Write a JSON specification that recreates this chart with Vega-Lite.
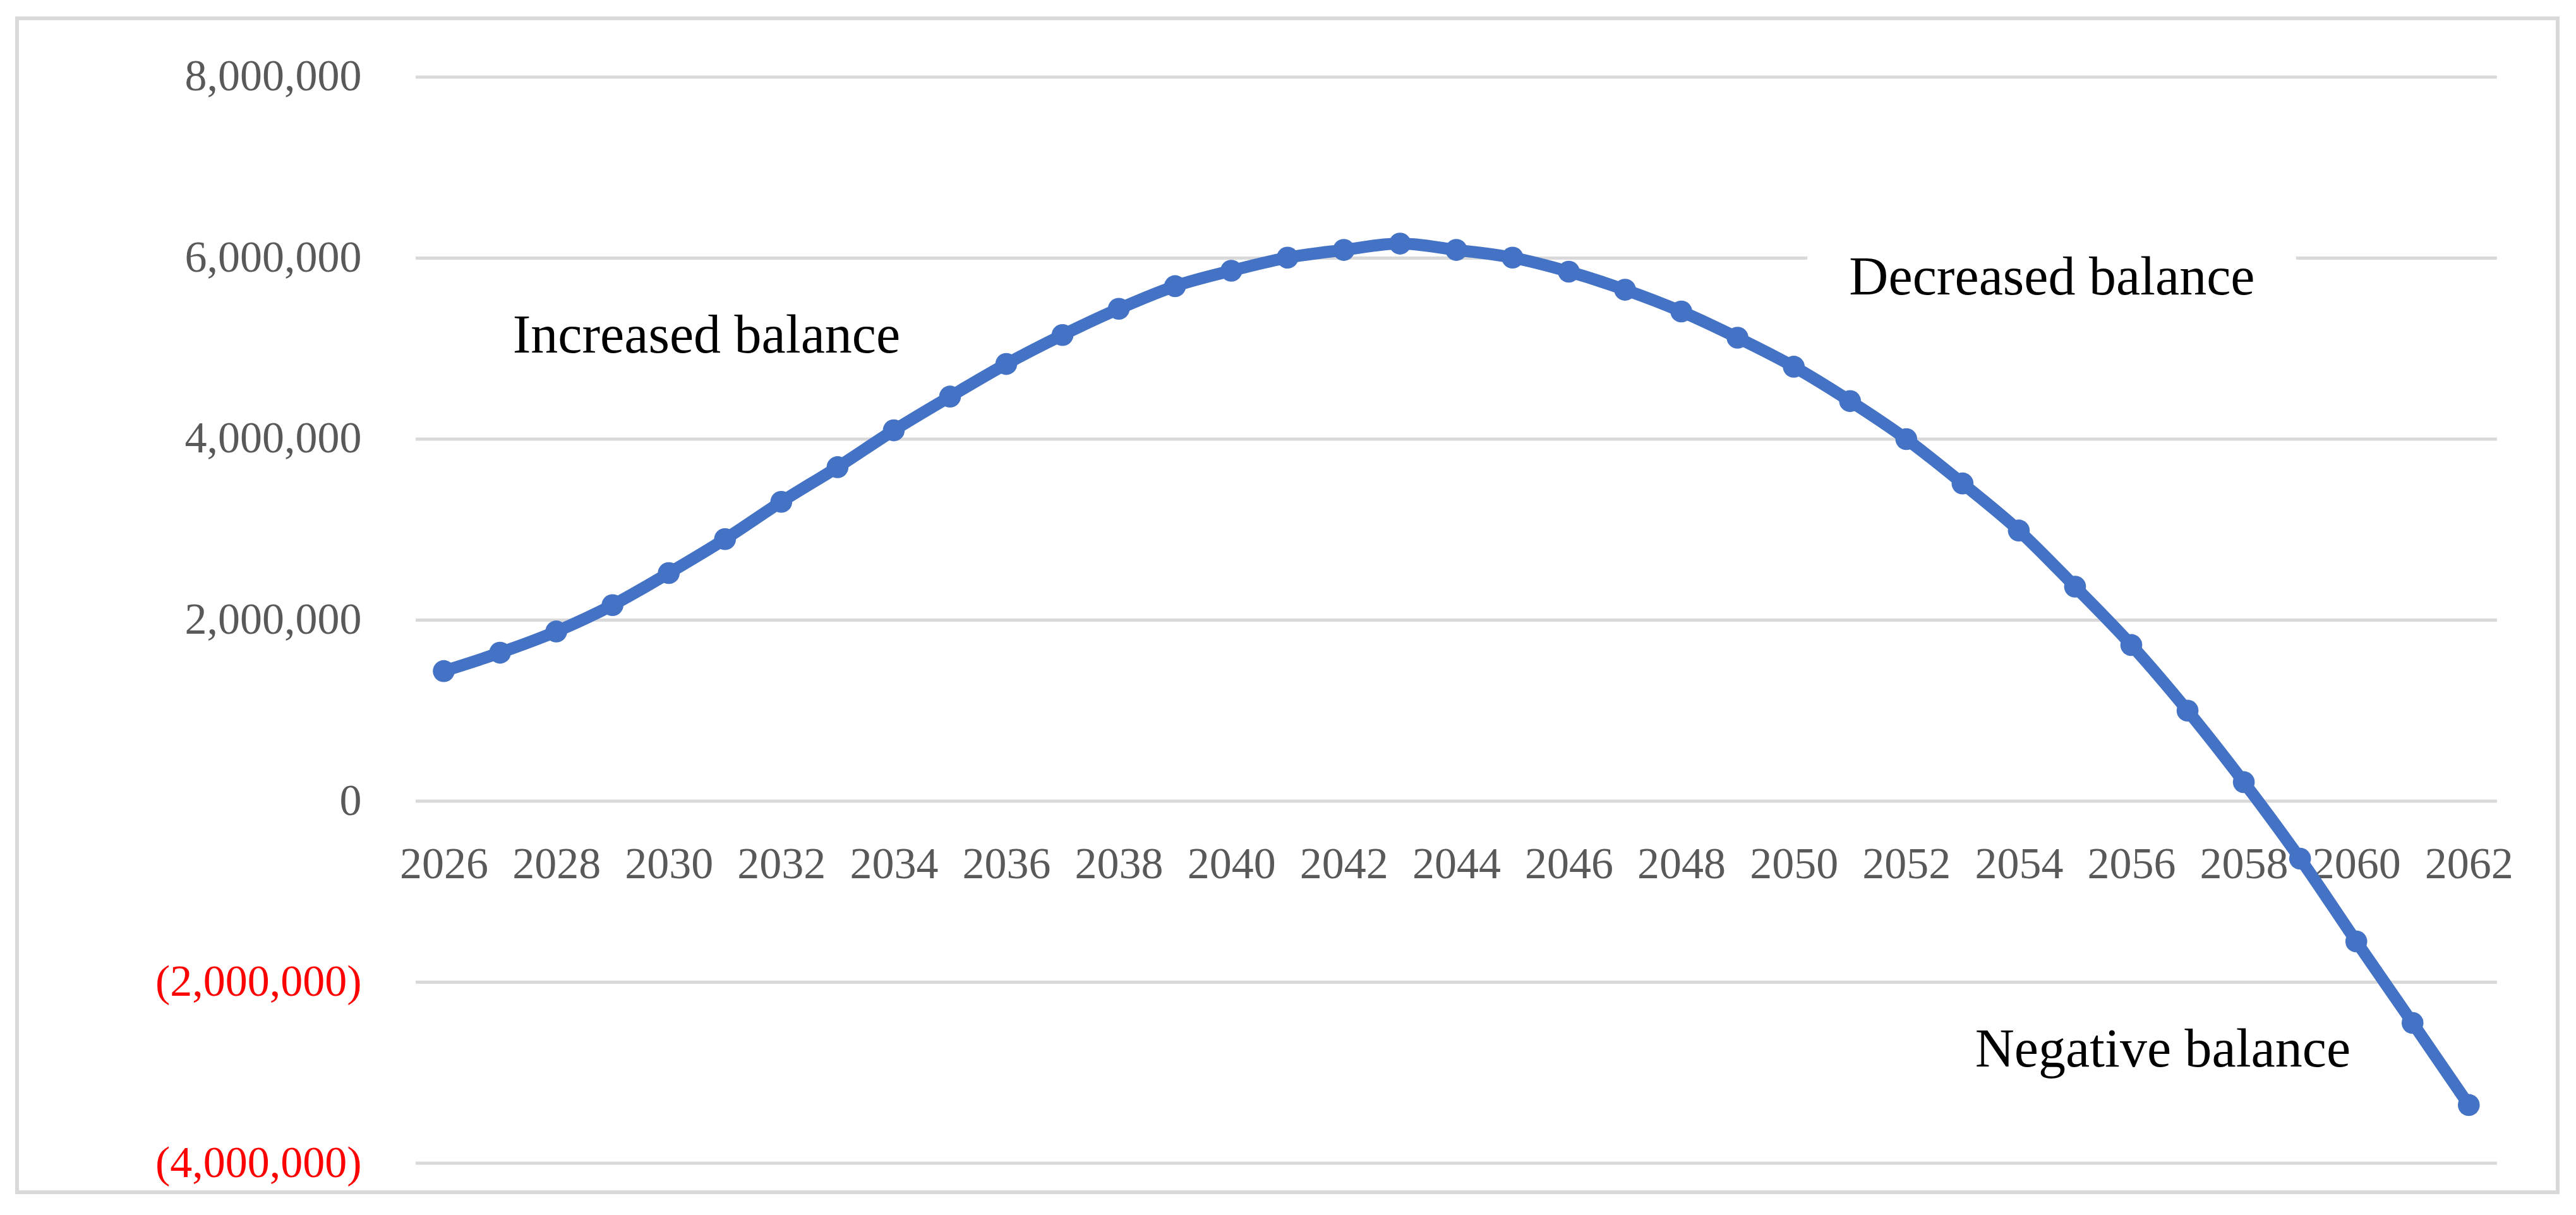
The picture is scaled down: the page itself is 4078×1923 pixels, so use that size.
{
  "$schema": "https://vega.github.io/schema/vega-lite/v6.json",
  "autosize": {"type": "none"},
  "padding": {"left": 27, "top": 29, "right": 29, "bottom": 36},
  "width": 4022,
  "height": 1858,
  "background": "white",
  "config": {
    "font": "Liberation Serif",
    "view": {"stroke": "#d9d9d9", "strokeWidth": 6}
  },
  "datasets": {
    "balance": [
      {"year": 2026, "value": 1437000},
      {"year": 2027, "value": 1640000},
      {"year": 2028, "value": 1875000},
      {"year": 2029, "value": 2166000},
      {"year": 2030, "value": 2520000},
      {"year": 2031, "value": 2895000},
      {"year": 2032, "value": 3307000},
      {"year": 2033, "value": 3690000},
      {"year": 2034, "value": 4097000},
      {"year": 2035, "value": 4470000},
      {"year": 2036, "value": 4830000},
      {"year": 2037, "value": 5150000},
      {"year": 2038, "value": 5440000},
      {"year": 2039, "value": 5690000},
      {"year": 2040, "value": 5860000},
      {"year": 2041, "value": 6005000},
      {"year": 2042, "value": 6090000},
      {"year": 2043, "value": 6160000},
      {"year": 2044, "value": 6090000},
      {"year": 2045, "value": 6005000},
      {"year": 2046, "value": 5850000},
      {"year": 2047, "value": 5650000},
      {"year": 2048, "value": 5410000},
      {"year": 2049, "value": 5120000},
      {"year": 2050, "value": 4800000},
      {"year": 2051, "value": 4420000},
      {"year": 2052, "value": 4000000},
      {"year": 2053, "value": 3510000},
      {"year": 2054, "value": 2990000},
      {"year": 2055, "value": 2370000},
      {"year": 2056, "value": 1725000},
      {"year": 2057, "value": 1000000},
      {"year": 2058, "value": 210000},
      {"year": 2059, "value": -635000},
      {"year": 2060, "value": -1550000},
      {"year": 2061, "value": -2450000},
      {"year": 2062, "value": -3357000}
    ],
    "gridlines": [
      {"value": -4000000},
      {"value": -2000000},
      {"value": 0},
      {"value": 2000000},
      {"value": 4000000},
      {"value": 6000000},
      {"value": 8000000}
    ],
    "notes": [
      {"label": "Increased balance", "year": 2030.67, "value": 4955000},
      {"label": "Decreased balance", "year": 2054.59, "value": 5596000},
      {"label": "Negative balance", "year": 2056.56, "value": -2931000}
    ]
  },
  "layer": [
    {
      "data": {"name": "gridlines"},
      "mark": {"type": "rule", "color": "#d9d9d9", "strokeWidth": 5},
      "encoding": {
        "x": {"datum": 2025.5, "type": "quantitative", "axis": {"title": null}},
        "x2": {"datum": 2062.5},
        "y": {"field": "value", "type": "quantitative", "axis": {"title": null}}
      }
    },
    {
      "data": {"values": [{}]},
      "mark": {"type": "rect", "color": "white"},
      "encoding": {
        "x": {"datum": 2050.24, "type": "quantitative", "axis": {"title": null}},
        "x2": {"datum": 2058.93},
        "y": {"datum": 5800000, "type": "quantitative", "axis": {"title": null}},
        "y2": {"datum": 6200000}
      }
    },
    {
      "data": {"name": "balance"},
      "mark": {
        "type": "line",
        "color": "#4472c4",
        "strokeWidth": 19,
        "interpolate": "monotone",
        "point": {"filled": true, "size": 1200, "color": "#4472c4", "opacity": 1}
      },
      "encoding": {
        "x": {
          "field": "year",
          "type": "quantitative",
          "scale": {"domain": [2018.414, 2063.58], "nice": false, "zero": false},
          "axis": {
            "title": null,
            "values": [2026, 2028, 2030, 2032, 2034, 2036, 2038, 2040, 2042, 2044, 2046, 2048, 2050, 2052, 2054, 2056, 2058, 2060, 2062],
            "format": "d",
            "grid": false,
            "domain": false,
            "ticks": false,
            "offset": -617,
            "labelPadding": 64,
            "labelFontSize": 70,
            "labelLimit": 0,
            "labelColor": "#595959",
            "labelFont": "Liberation Serif"
          }
        },
        "y": {
          "field": "value",
          "type": "quantitative",
          "scale": {"domain": [-4321000, 8649000], "nice": false, "zero": false},
          "axis": {
            "title": null,
            "values": [-4000000, -2000000, 0, 2000000, 4000000, 6000000, 8000000],
            "labelExpr": "datum.value < 0 ? '(' + format(-datum.value, ',') + ')' : format(datum.value, ',')",
            "grid": false,
            "domain": false,
            "ticks": false,
            "offset": -545,
            "labelPadding": 0,
            "labelFontSize": 70,
            "labelLimit": 0,
            "labelFont": "Liberation Serif",
            "labelColor": {"condition": {"test": "datum.value < 0", "value": "#ff0000"}, "value": "#595959"}
          }
        }
      }
    },
    {
      "data": {"name": "notes"},
      "mark": {"type": "text", "fontSize": 86, "color": "black", "align": "center", "baseline": "alphabetic", "font": "Liberation Serif"},
      "encoding": {
        "x": {"field": "year", "type": "quantitative", "axis": {"title": null}},
        "y": {"field": "value", "type": "quantitative", "axis": {"title": null}},
        "text": {"field": "label"}
      }
    }
  ]
}
